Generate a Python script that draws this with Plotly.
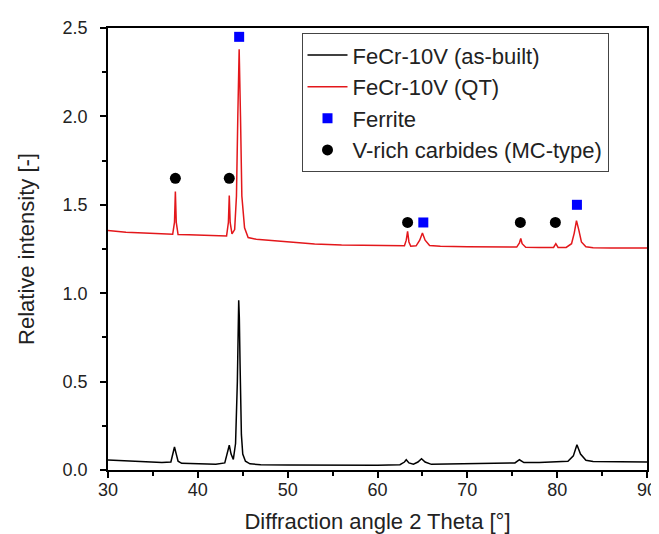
import plotly.graph_objects as go

# As-built (black) trace points
asbuilt_x = [30, 33, 36, 37.0, 37.2, 37.4, 37.6, 37.8, 38.2, 40, 42, 43.0, 43.3, 43.5, 43.7, 43.95,
             44.2, 44.4, 44.55, 44.62, 44.7, 44.85, 45.0, 45.3, 45.8, 47, 50, 55, 60, 62.5, 63.0,
             63.2, 63.5, 64.0, 64.5, 64.9, 65.3, 66, 68, 72, 75.3, 75.8, 76.3, 78, 80, 81.2,
             81.8, 82.2, 82.6, 83.2, 84, 87, 90]
asbuilt_y = [0.056, 0.05, 0.042, 0.045, 0.08, 0.13, 0.09, 0.05, 0.038, 0.034, 0.033, 0.04, 0.10,
             0.14, 0.09, 0.06, 0.15, 0.5, 0.96, 0.86, 0.6, 0.2, 0.09, 0.05, 0.035, 0.03, 0.028,
             0.027, 0.027, 0.03, 0.045, 0.058, 0.04, 0.033, 0.045, 0.064, 0.045, 0.032, 0.033,
             0.036, 0.04, 0.058, 0.042, 0.042, 0.045, 0.05, 0.08, 0.143, 0.09, 0.055, 0.048,
             0.046, 0.045]

# QT (red) trace points
qt_x = [30, 32, 34, 36, 37.2, 37.4, 37.5, 37.6, 37.8, 39, 41, 42.5, 43.2, 43.4, 43.5, 43.6,
        43.8, 44.1, 44.3, 44.45, 44.6, 44.75, 44.9, 45.2, 45.6, 46.5, 48, 50, 53, 56, 59, 62,
        63.0, 63.2, 63.35, 63.5, 63.7, 64.3, 64.7, 65.0, 65.3, 65.8, 67, 70, 73, 75.5, 75.8,
        75.95, 76.1, 76.5, 78, 79.6, 79.85, 80.1, 81, 81.6, 81.9, 82.15, 82.4, 82.7, 83.2, 84,
        86, 88, 90]
qt_y = [1.355, 1.345, 1.34, 1.335, 1.333, 1.40, 1.575, 1.40, 1.332, 1.33, 1.328, 1.325, 1.324,
        1.40, 1.553, 1.40, 1.335, 1.36, 1.55, 2.0, 2.38, 2.0, 1.55, 1.37, 1.315, 1.305, 1.298,
        1.29, 1.278, 1.272, 1.27, 1.268, 1.268, 1.30, 1.35, 1.29, 1.266, 1.268, 1.30, 1.34, 1.30,
        1.27, 1.265, 1.263, 1.261, 1.261, 1.285, 1.31, 1.28, 1.26, 1.259, 1.259, 1.28, 1.259,
        1.259, 1.28, 1.34, 1.41, 1.36, 1.29, 1.263, 1.257, 1.256, 1.255, 1.255]

ferrite_x = [44.6, 65.1, 82.2]
ferrite_y = [2.45, 1.40, 1.50]
carbide_x = [37.5, 43.5, 63.35, 75.9, 79.8]
carbide_y = [1.65, 1.65, 1.40, 1.40, 1.40]

FONT = "Liberation Sans, Arial, sans-serif"

fig = go.Figure()
fig.add_trace(go.Scatter(x=asbuilt_x, y=asbuilt_y, mode="lines", name="FeCr-10V (as-built)",
                         line=dict(color="black", width=1.5)))
fig.add_trace(go.Scatter(x=qt_x, y=qt_y, mode="lines", name="FeCr-10V (QT)",
                         line=dict(color="#e3171b", width=1.5)))
fig.add_trace(go.Scatter(x=ferrite_x, y=ferrite_y, mode="markers", name="Ferrite",
                         marker=dict(symbol="square", color="#0000ff", size=10)))
fig.add_trace(go.Scatter(x=carbide_x, y=carbide_y, mode="markers", name="V-rich carbides (MC-type)",
                         marker=dict(symbol="circle", color="black", size=11)))

axis_common = dict(showline=True, linecolor="black", linewidth=1.5, mirror=True,
                   ticks="outside", ticklen=6, tickwidth=1.5, tickcolor="black",
                   showgrid=False, zeroline=False,
                   tickfont=dict(family=FONT, size=18, color="#222"))

fig.update_xaxes(range=[30, 90], dtick=10, tick0=30, ticklabelstandoff=-3,
                 minor=dict(dtick=5, ticks="outside", ticklen=4, tickwidth=1.5, tickcolor="black"),
                 title=dict(text="Diffraction angle 2 Theta [°]", font=dict(family=FONT, size=22, color="#222"),
                            standoff=14),
                 **axis_common)
fig.update_yaxes(range=[0, 2.5], dtick=0.5, tick0=0, tickformat=".1f", ticklabelstandoff=9,
                 minor=dict(dtick=0.25, ticks="outside", ticklen=4, tickwidth=1.5, tickcolor="black"),
                 title=dict(text="Relative intensity [-]", font=dict(family=FONT, size=22, color="#222"),
                            standoff=22),
                 **axis_common)

fig.update_layout(
    width=659, height=534,
    margin=dict(l=100, r=10, t=19, b=72),
    plot_bgcolor="white", paper_bgcolor="white",
    legend=dict(x=0.359, y=0.988, xanchor="left", yanchor="top",
                bordercolor="#444", borderwidth=1, bgcolor="white",
                font=dict(family=FONT, size=22, color="#222"),
                itemwidth=40, tracegroupgap=0),
    showlegend=True,
)

fig.write_html("out.html")
